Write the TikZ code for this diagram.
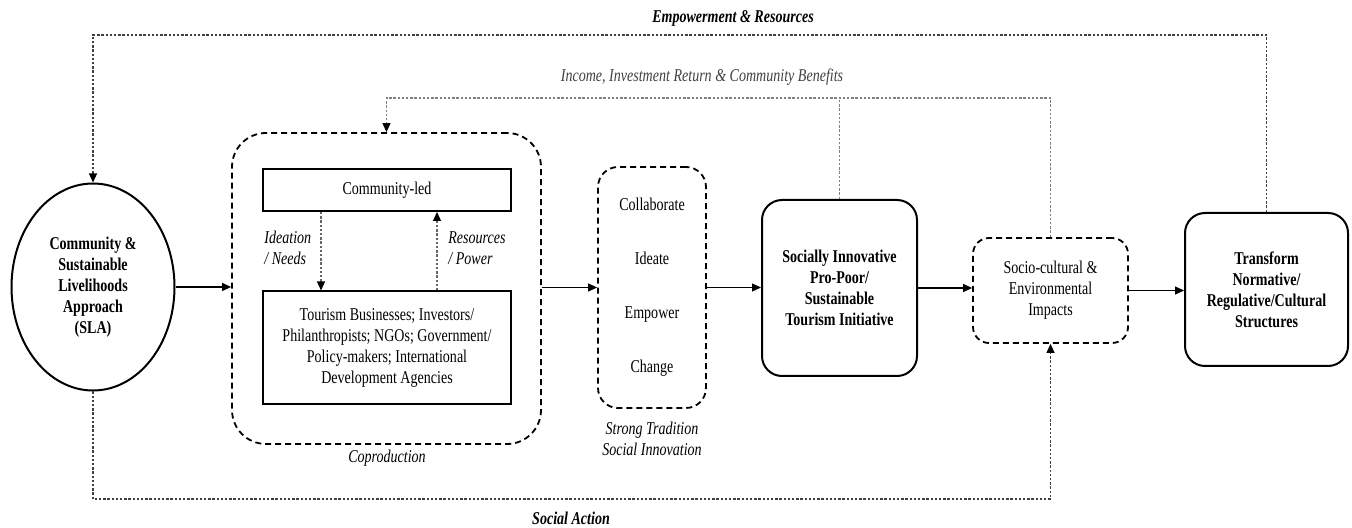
\documentclass[tikz,border=0pt]{standalone}
\usepackage{fontspec}
\setmainfont{Liberation Serif}[FakeStretch=0.78]
\usetikzlibrary{arrows.meta,shapes.geometric}

\begin{document}
\fontsize{9pt}{10.5pt}\selectfont
\begin{tikzpicture}[x=0.5pt, y=-0.5pt, >={Triangle[length=4.5pt,width=4pt,color=black]}]
	\tikzstyle{every node}=[inner sep=1pt, align=center]
	\tikzstyle{solidbox}=[draw, line width=1pt, rounded corners=10pt]
	\tikzstyle{dashbox}=[draw, line width=0.9pt, dash pattern=on 3pt off 2pt, rounded corners=10pt]
	\tikzstyle{plainbox}=[draw, line width=1pt, minimum width=124pt]
	\tikzstyle{link}=[line width=0.6pt, dash pattern=on 1.2pt off 0.9pt, black!75]
	\tikzstyle{flow}=[->, line width=0.6pt]
	\useasboundingbox (0,0) rectangle (1352,528);

	\node[draw, ellipse, line width=1pt, minimum width=81.5pt, minimum height=103.5pt, font=\bfseries] (sla) at (93,287) {Community \&\\Sustainable\\Livelihoods\\Approach\\(SLA)};

	% coproduction
	\node[dashbox, rounded corners=17pt, minimum width=154.5pt, minimum height=155.5pt] (coprod) at (386.5,288.5) {};
	\node[font=\itshape] (coprodlabel) at (387,458) {Coproduction};
	\node[plainbox, minimum height=21pt] (led) at (387,190) {Community-led};
	\node[plainbox, minimum height=56.5pt] (tour) at (387,348) {Tourism Businesses; Investors/\\Philanthropists; NGOs; Government/\\Policy-makers; International\\Development Agencies};
	\coordinate (needs) at (321,0);
	\coordinate (power) at (437,0);
	\draw[->, link, black!60] (led.south -| needs) -- (tour.north -| needs);
	\draw[->, link, black!60] (tour.north -| power) -- (led.south -| power);
	\node[font=\itshape, align=left, anchor=west] (ideation) at (262,248) {Ideation\\/ Needs};
	\node[font=\itshape, align=left, anchor=west] (resources) at (446,248) {Resources\\/ Power};

	% tradition
	\node[dashbox, minimum width=54pt, minimum height=120.5pt] (collab) at (652,287.5) {Collaborate\\[16.5pt]Ideate\\[16.5pt]Empower\\[16.5pt]Change};
	\node[font=\itshape] (tradition) at (652,439) {Strong Tradition\\Social Innovation};

	\node[solidbox, font=\bfseries, minimum width=77.5pt, minimum height=88pt] (si) at (839.5,288) {Socially Innovative\\Pro-Poor/\\Sustainable\\Tourism Initiative};
	\node[dashbox, rounded corners=8pt, minimum width=77.5pt, minimum height=52.5pt] (socio) at (1050.5,290.5) {Socio-cultural \&\\Environmental\\Impacts};
	\node[solidbox, font=\bfseries, minimum width=81.5pt, minimum height=76.5pt] (trans) at (1266.5,289.5) {Transform\\Normative/\\Regulative/Cultural\\Structures};

	\draw[flow] (sla.east) -- (sla.east -| coprod.west);
	\draw[flow] (coprod.east |- collab.west) -- (collab.west);
	\draw[flow] (collab.east) -- (collab.east -| si.west);
	\draw[flow] (si.east) -- (si.east -| socio.west);
	\draw[flow] (socio.east) -- (socio.east -| trans.west);

	% feedback loops
	\coordinate (empower) at (700,35);
	\draw[->, link] (trans.north) |- (empower) -| (sla.north);
	\node[font=\bfseries\itshape] (emplabel) at (733,18) {Empowerment \& Resources};
	\coordinate (income) at (700,98);
	\draw[->, link, black!50] (socio.north) |- (income) -| (coprod.north);
	\draw[link, black!50] (si.north) -- (si.north |- income);
	\node[font=\itshape, text=black!75] (inclabel) at (702,77) {Income, Investment Return \& Community Benefits};
	\coordinate (action) at (600,499);
	\draw[->, link] (sla.south) |- (action) -| (socio.south);
	\node[font=\bfseries\itshape] (actlabel) at (571,518) {Social Action};
\end{tikzpicture}
\end{document}
